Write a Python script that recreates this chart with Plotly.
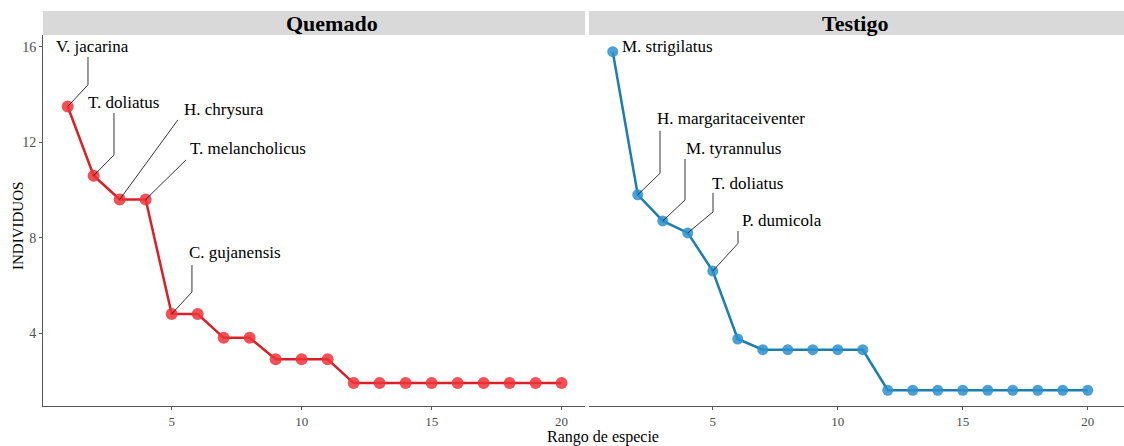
import plotly.graph_objects as go

W, H = 1124, 446

rank = list(range(1, 21))
quemado = [13.5, 10.6, 9.6, 9.6, 4.8, 4.8, 3.8, 3.8, 2.9, 2.9, 2.9,
           1.9, 1.9, 1.9, 1.9, 1.9, 1.9, 1.9, 1.9, 1.9]
testigo = [15.8, 9.8, 8.7, 8.2, 6.6, 3.75, 3.3, 3.3, 3.3, 3.3, 3.3,
           1.6, 1.6, 1.6, 1.6, 1.6, 1.6, 1.6, 1.6, 1.6]
x_ticks = [5, 10, 15, 20]
y_ticks = [4, 8, 12, 16]

q_labels = ["V. jacarina", "T. doliatus", "H. chrysura", "T. melancholicus", "C. gujanensis"]
t_labels = ["M. strigilatus", "H. margaritaceiventer", "M. tyrannulus", "T. doliatus", "P. dumicola"]

# label placement (text left x, text y, bend x, bend y, line top y) in data units
q_place = [(0.47, 16.0, 1.78, 14.41, 15.58),
           (1.72, 13.65, 2.78, 11.47, 13.23),
           (5.38, 13.36, None, None, 12.94),
           (5.64, 11.72, None, None, 11.26),
           (5.60, 7.36, 5.78, 5.72, 6.85)]
t_place = [(1.27, 16.0, None, None, None),
           (2.67, 12.98, 2.89, 10.7, 12.48),
           (3.83, 11.72, 3.89, 9.58, 11.3),
           (4.87, 10.29, 5.01, 9.08, 9.88),
           (6.07, 8.70, 6.01, 7.76, 8.28)]
q_top_x = [None, None, 5.24, 5.55, None]

RED_LINE = "#D92027"
RED_PT = "rgba(238,52,58,0.85)"
BLUE_LINE = "#1B7DB0"
BLUE_PT = "rgba(45,145,205,0.85)"

fig = go.Figure()

fig.add_trace(go.Scatter(x=rank, y=quemado, mode="lines+markers", xaxis="x", yaxis="y",
                         line=dict(color=RED_LINE, width=2.5),
                         marker=dict(color=RED_PT, size=12), showlegend=False))
fig.add_trace(go.Scatter(x=rank, y=testigo, mode="lines+markers", xaxis="x2", yaxis="y2",
                         line=dict(color=BLUE_LINE, width=2.5),
                         marker=dict(color=BLUE_PT, size=11), showlegend=False))

font_lbl = dict(family="Liberation Serif", size=17, color="black")
annotations = []

def add_labels(labels, places, values, xa, ya, topx=None):
    for i, (lab, pl) in enumerate(zip(labels, places)):
        tx, ty, bx, by, top = pl
        annotations.append(dict(text=lab, x=tx, y=ty, xref=xa, yref=ya, xanchor="left",
                                yanchor="middle", showarrow=False, font=font_lbl))
        px, py = rank[i], values[i]
        if top is None:
            continue
        if bx is not None:
            xs = [px, bx, bx]
            ys = [py, by, top]
        else:
            xs = [px, topx[i]]
            ys = [py, top]
        fig.add_trace(go.Scatter(x=xs, y=ys, mode="lines", xaxis=xa, yaxis=ya,
                                 line=dict(color="black", width=0.8),
                                 hoverinfo="skip", showlegend=False))

add_labels(q_labels, q_place, quemado, "x", "y", q_top_x)
add_labels(t_labels, t_place, testigo, "x2", "y2")

def px2x(p):
    return p / W

def py2y(p):
    return (H - p) / H

xdom1 = [px2x(43), px2x(585)]
xdom2 = [px2x(589), px2x(1124)]
ydom = [py2y(406), py2y(35)]
yrange = [0.94, 16.5]

tickfont = dict(family="Liberation Serif", size=14, color="#4D4D4D")
xtickfont = dict(family="Liberation Serif", size=13, color="#4D4D4D")
common_x = dict(tickvals=x_ticks, ticks="outside", ticklen=3, tickcolor="#555",
                showline=True, linecolor="#555", linewidth=1,
                showgrid=False, zeroline=False, tickfont=xtickfont)

fig.update_layout(
    width=W, height=H, margin=dict(l=0, r=0, t=0, b=0),
    paper_bgcolor="white", plot_bgcolor="white",
    xaxis=dict(domain=xdom1, anchor="y", range=[0.05, 20.9], **common_x),
    xaxis2=dict(domain=xdom2, anchor="y2", range=[0.05, 21.45], **common_x),
    yaxis=dict(domain=ydom, range=yrange, anchor="x", tickvals=y_ticks, ticks="outside",
               ticklen=3, tickcolor="#555", showline=True, linecolor="#555", linewidth=1,
               showgrid=False, zeroline=False, tickfont=tickfont),
    yaxis2=dict(domain=ydom, range=yrange, anchor="x2", showticklabels=False, ticks="",
                showline=False, showgrid=False, zeroline=False),
    showlegend=False,
)

# facet strips
strip_y0, strip_y1 = py2y(35), py2y(11)
for dom, title, cx in [(xdom1, "Quemado", px2x(332)), (xdom2, "Testigo", px2x(855))]:
    fig.add_shape(type="rect", xref="paper", yref="paper", x0=dom[0], x1=dom[1],
                  y0=strip_y0, y1=strip_y1, fillcolor="#D9D9D9", line=dict(width=0), layer="below")
    annotations.append(dict(text="<b>" + title + "</b>", x=cx,
                            y=(strip_y0 + strip_y1) / 2, xref="paper", yref="paper",
                            xanchor="center", yanchor="middle", showarrow=False,
                            font=dict(family="Liberation Serif", size=22, color="black")))

annotations.append(dict(text="Rango de especie", x=px2x(603), y=py2y(436.5), xref="paper", yref="paper",
                        xanchor="center", yanchor="middle", showarrow=False, borderpad=0,
                        font=dict(family="Liberation Serif", size=16, color="black")))
annotations.append(dict(text="INDIVIDUOS", x=px2x(18), y=py2y(226), xref="paper", yref="paper",
                        xanchor="center", yanchor="middle", showarrow=False, textangle=-90,
                        font=dict(family="Liberation Serif", size=15, color="black")))

fig.update_layout(annotations=annotations)
fig.write_html("out.html")
